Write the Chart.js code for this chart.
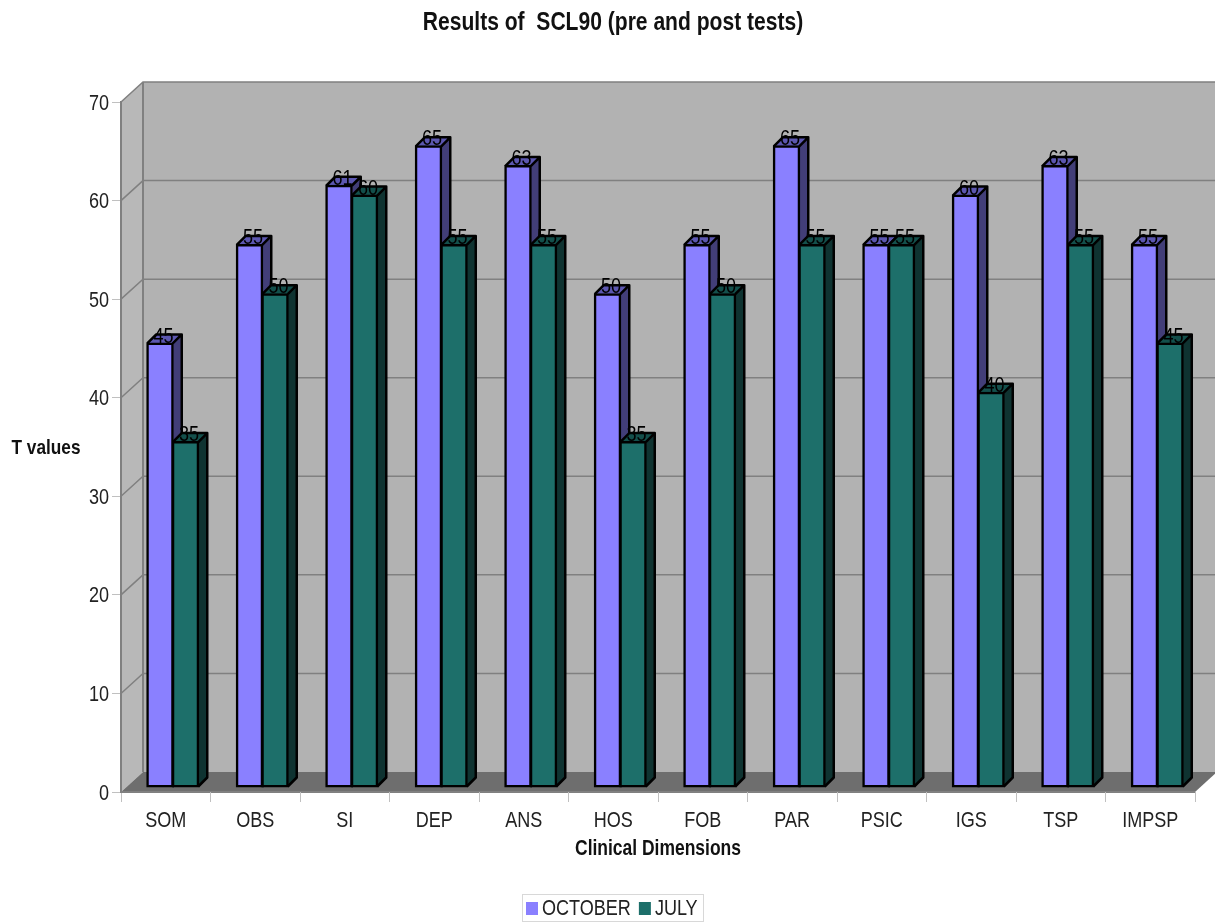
<!DOCTYPE html>
<html>
<head>
<meta charset="utf-8">
<title>Results of SCL90</title>
<script src="https://cdn.jsdelivr.net/npm/chart.js@4/dist/chart.umd.js"></script>
<style>
html, body { margin: 0; padding: 0; background: #fff; overflow: hidden; }
canvas { display: block; }
</style>
</head>
<body>
<canvas id="sclChart" width="1215" height="922"></canvas>
<script>
const categories = ['SOM', 'OBS', 'SI', 'DEP', 'ANS', 'HOS', 'FOB', 'PAR', 'PSIC', 'IGS', 'TSP', 'IMPSP'];
const october = [45, 55, 61, 65, 63, 50, 55, 65, 55, 60, 63, 55];
const july = [35, 50, 60, 55, 55, 35, 50, 55, 55, 40, 55, 45];

const font = '"Liberation Sans", sans-serif';
const wallDx = 22, wallDy = 20;   // depth of the back wall
const barDepth = 9;               // depth of the bars
const barShiftX = 7, barShiftY = 5;

const faces = [
    { top: '#5c57b0', side: '#423e78' },
    { top: '#134f4b', side: '#0f3331' }
];

// no narrow font here, so squeeze all canvas text horizontally
const canvas = document.getElementById('sclChart');
const ctx = canvas.getContext('2d');
const squeeze = 0.82;
const plainFill = ctx.fillText.bind(ctx);
const plainMeasure = ctx.measureText.bind(ctx);
ctx.fillText = function (text, x, y) {
    ctx.save();
    ctx.translate(x, y);
    ctx.scale(squeeze, 1);
    plainFill(text, 0, 0);
    ctx.restore();
};
ctx.measureText = function (text) {
    return { width: plainMeasure(text).width * squeeze };
};

function poly(c, pts, fill) {
    c.beginPath();
    pts.forEach((p, i) => i ? c.lineTo(p[0], p[1]) : c.moveTo(p[0], p[1]));
    c.closePath();
    c.fillStyle = fill;
    c.fill();
}

// walls, floor and gridlines behind the bars
const walls = {
    id: 'walls',
    beforeDraw(chart) {
        const c = chart.ctx, a = chart.chartArea, y = chart.scales.y;
        const L = a.left, R = a.right, T = a.top, B = a.bottom;
        c.save();
        poly(c, [[L + wallDx, T - wallDy], [R + wallDx, T - wallDy], [R + wallDx, B - wallDy], [L + wallDx, B - wallDy]], '#b2b2b2');
        poly(c, [[L, T], [L + wallDx, T - wallDy], [L + wallDx, B - wallDy], [L, B]], '#b8b8b8');
        poly(c, [[L, B], [L + wallDx, B - wallDy], [R + wallDx, B - wallDy], [R, B]], '#6e6e6e');
        c.strokeStyle = '#808080';
        c.lineWidth = 1.5;
        y.ticks.forEach(t => {
            const py = y.getPixelForValue(t.value);
            if (t.value === 0) return;
            c.beginPath();
            c.moveTo(L, py);
            c.lineTo(L + wallDx, py - wallDy);
            c.lineTo(R + wallDx, py - wallDy);
            c.stroke();
        });
        c.lineWidth = 2;
        c.beginPath();
        c.moveTo(L + wallDx, T - wallDy);
        c.lineTo(L + wallDx, B - wallDy);
        c.moveTo(L, B);
        c.lineTo(R, B);
        c.stroke();
        c.restore();
    }
};

// 3d faces and value labels of the bars
const bars3d = {
    id: 'bars3d',
    beforeDatasetsDraw(chart) {
        const c = chart.ctx;
        c.save();
        c.translate(barShiftX, -barShiftY);
        // all tops and sides go first, the front faces then cover them
        chart.data.datasets.forEach((ds, i) => {
            const f = faces[i];
            chart.getDatasetMeta(i).data.forEach(bar => {
                const p = bar.getProps(['x', 'y', 'base', 'width'], true);
                const l = p.x - p.width / 2, r = p.x + p.width / 2;
                poly(c, [[l, p.y], [l + barDepth, p.y - barDepth], [r + barDepth, p.y - barDepth], [r, p.y]], f.top);
                poly(c, [[r, p.y], [r + barDepth, p.y - barDepth], [r + barDepth, p.base - barDepth], [r, p.base]], f.side);
                c.strokeStyle = '#000';
                c.lineWidth = 2.5;
                c.lineJoin = 'round';
                c.beginPath();
                c.moveTo(l, p.y);
                c.lineTo(l + barDepth, p.y - barDepth);
                c.lineTo(r + barDepth, p.y - barDepth);
                c.lineTo(r + barDepth, p.base - barDepth);
                c.lineTo(r, p.base);
                c.moveTo(r + barDepth, p.y - barDepth);
                c.lineTo(r, p.y);
                c.stroke();
            });
        });
    },
    afterDatasetsDraw(chart) {
        const c = chart.ctx;
        c.font = '22px ' + font;
        c.fillStyle = '#000';
        c.textAlign = 'center';
        c.textBaseline = 'middle';
        chart.data.datasets.forEach((ds, i) => {
            chart.getDatasetMeta(i).data.forEach((bar, j) => {
                const p = bar.getProps(['x', 'y'], true);
                c.fillText(String(ds.data[j]), p.x + barDepth / 2 - 1, p.y - 7);
            });
        });
        c.restore();
    },
    afterDraw(chart) {
        const c = chart.ctx, a = chart.chartArea;
        c.save();
        // legend, the native one keeps too wide a gap after the swatch
        c.strokeStyle = '#d8d8d8';
        c.lineWidth = 1;
        c.strokeRect(522.5, 894.5, 181, 27);
        c.font = '22px ' + font;
        c.textAlign = 'left';
        c.textBaseline = 'middle';
        let x = 526;
        chart.data.datasets.forEach(ds => {
            c.fillStyle = ds.backgroundColor;
            c.fillRect(x, 902, 12, 13);
            c.fillStyle = '#222';
            c.fillText(ds.label, x + 16, 909);
            x += 16 + c.measureText(ds.label).width + 8;
        });
        // horizontal y axis title
        c.font = 'bold 21px ' + font;
        c.fillStyle = '#111';
        c.textAlign = 'center';
        c.fillText('T values', 46, (a.top + a.bottom) / 2 + 1);
        c.restore();
    }
};

new Chart(canvas, {
    type: 'bar',
    data: {
        labels: categories,
        datasets: [
            { label: 'OCTOBER', data: october, backgroundColor: '#8a80ff', borderColor: '#000', borderWidth: 2.5, inflateAmount: 1, borderSkipped: false, clip: false },
            { label: 'JULY', data: july, backgroundColor: '#1d6f6a', borderColor: '#000', borderWidth: 2.5, inflateAmount: 1, borderSkipped: false, clip: false }
        ]
    },
    options: {
        responsive: false,
        animation: false,
        devicePixelRatio: 1,
        categoryPercentage: 0.57,
        barPercentage: 1,
        layout: { padding: { left: 31, right: 20, top: 0, bottom: 0 } },
        plugins: {
            title: {
                display: true,
                text: 'Results of  SCL90 (pre and post tests)',
                color: '#111',
                font: { family: font, size: 25.7, weight: 'bold', lineHeight: 1.2 },
                padding: { top: 7, bottom: 64.2 }
            },
            legend: { display: false },
            tooltip: { enabled: false }
        },
        scales: {
            x: {
                grid: { drawOnChartArea: false, color: '#c0c0c0', tickLength: 10, offset: true },
                border: { display: false },
                ticks: { color: '#222', padding: 6, maxRotation: 0, font: { family: font, size: 22 } },
                title: {
                    display: true,
                    text: 'Clinical Dimensions',
                    color: '#111',
                    font: { family: font, size: 21.3, weight: 'bold' },
                    padding: { top: 5, bottom: 60 }
                },
                afterFit(scale) {
                    scale.height = 130;
                    scale.paddingLeft = 0;
                    scale.paddingRight = 0;
                }
            },
            y: {
                min: 0,
                max: 70,
                grid: { drawOnChartArea: false, color: '#c0c0c0', tickLength: 9 },
                border: { color: '#808080', width: 2 },
                ticks: { stepSize: 10, color: '#222', padding: 3, labelOffset: 1.5, font: { family: font, size: 22 } },
                afterFit(scale) {
                    scale.width = 90;
                    scale.paddingTop = 0;
                    scale.paddingBottom = 0;
                }
            }
        }
    },
    plugins: [walls, bars3d]
});
</script>
</body>
</html>
